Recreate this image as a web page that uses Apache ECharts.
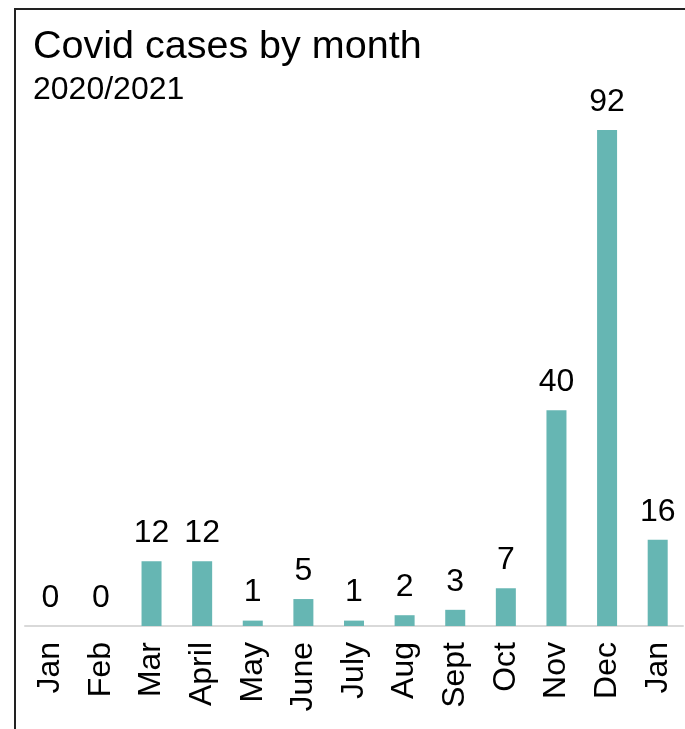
<!DOCTYPE html>
<html><head><meta charset="utf-8">
<script src="https://cdn.jsdelivr.net/npm/echarts@6/dist/echarts.min.js"></script>
<style>html,body{margin:0;padding:0;background:#fff}#c{width:685px;height:729px}
#frame{position:absolute;left:14px;top:8px;width:700px;height:760px;border:2px solid #222;box-sizing:border-box;pointer-events:none}</style>
</head><body><div id="c"></div><div id="frame"></div>
<script>
const categories = ['Jan','Feb','Mar','April','May','June','July','Aug','Sept','Oct','Nov','Dec','Jan'];
const cases = [0,0,12,12,1,5,1,2,3,7,40,92,16];
const chart = echarts.init(document.getElementById('c'));
const F = 'Liberation Sans, Arial, sans-serif';
chart.setOption({
  animation:false,
  title:{text:'Covid cases by month',subtext:'2020/2021',left:28,top:22,itemGap:7,
    textStyle:{fontFamily:F,fontSize:39.5,fontWeight:'normal',color:'#000'},
    subtextStyle:{fontFamily:F,fontSize:32,color:'#000'}},
  grid:{left:25,right:2,top:130,bottom:103,containLabel:false},
  xAxis:{type:'category',data:categories,
    axisLine:{lineStyle:{color:'#d9d9d9',width:2}},axisTick:{show:false},
    axisLabel:{rotate:90,interval:0,margin:16,fontFamily:F,fontSize:32,color:'#000'}},
  yAxis:{type:'value',min:0,max:92,show:false,splitLine:{show:false}},
  series:[{type:'bar',data:cases,barWidth:20,
    itemStyle:{color:'#66B6B3'},
    label:{show:true,position:'top',distance:12,fontFamily:F,fontSize:32,color:'#000'}}]
});
</script></body></html>
